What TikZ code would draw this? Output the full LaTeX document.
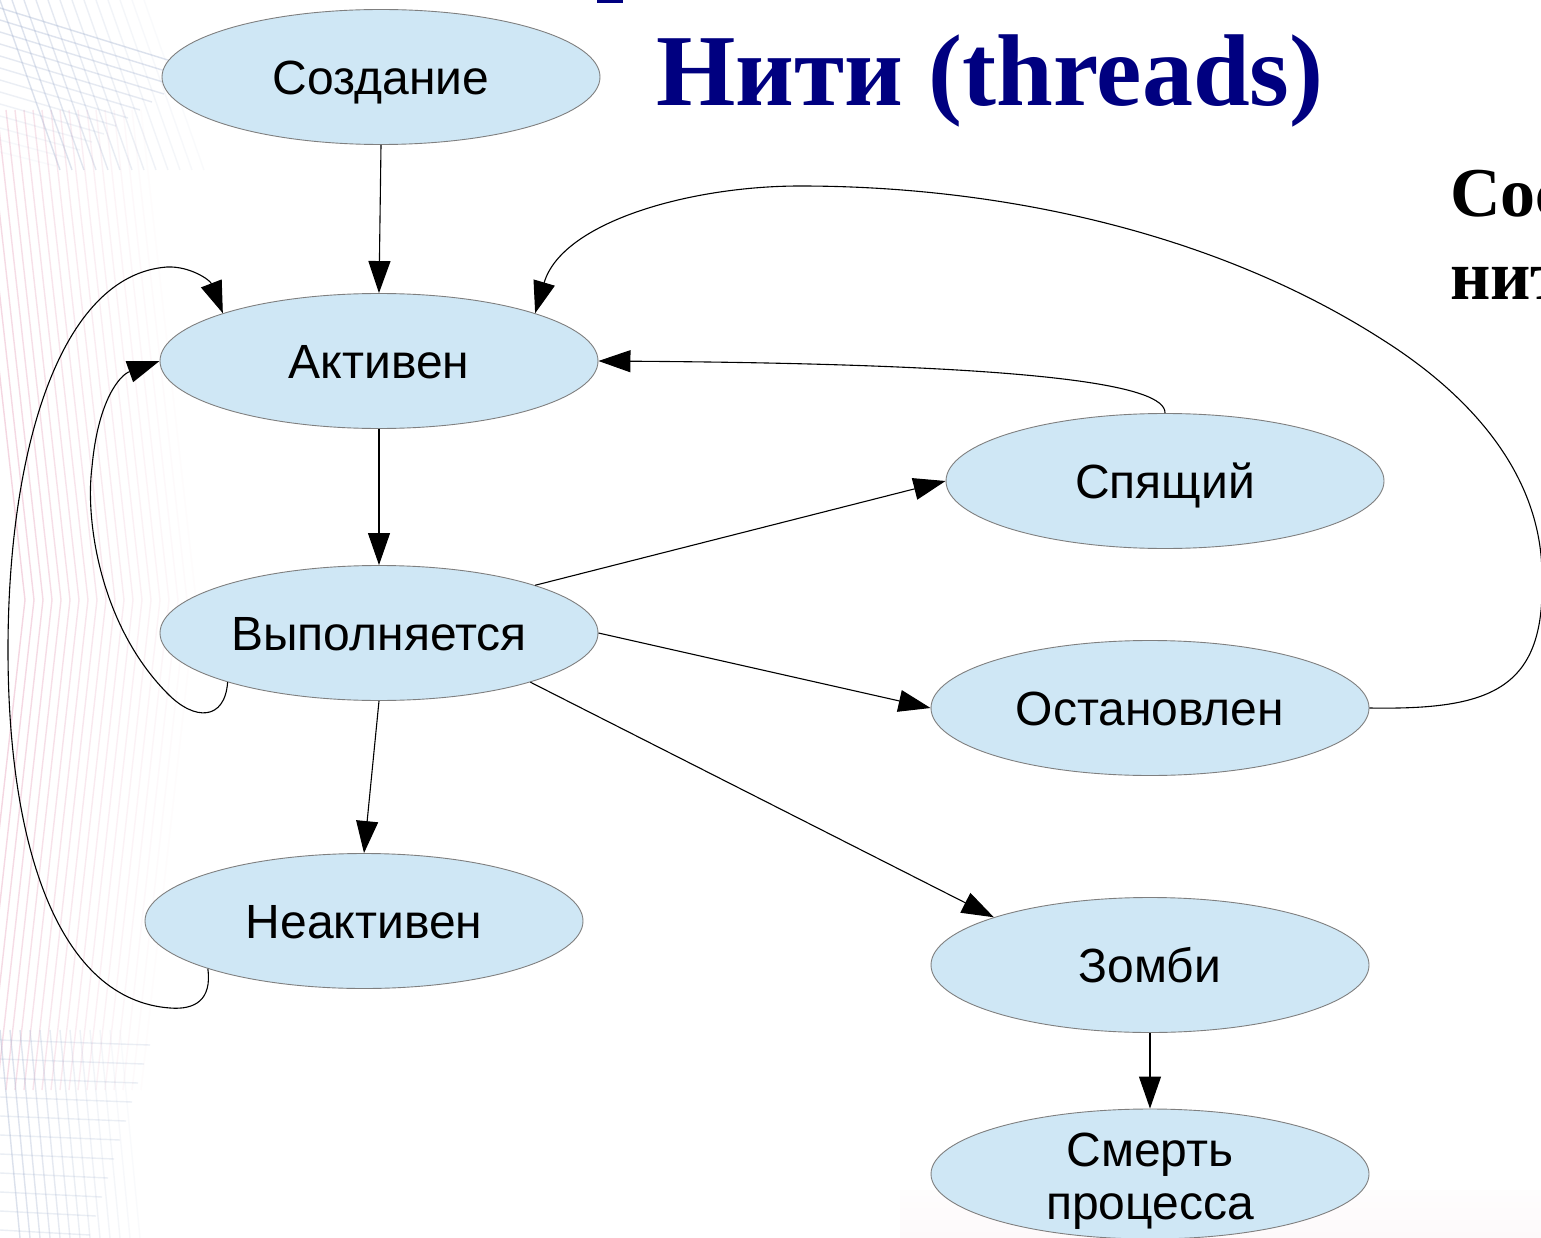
\documentclass[tikz,border=0pt]{standalone}
\usepackage{fontspec}
\setmainfont{Liberation Sans}
\newfontfamily\titlefont{Liberation Serif}
\usetikzlibrary{arrows.meta,shapes.geometric}
\definecolor{stfill}{HTML}{CFE7F5}
\definecolor{stborder}{HTML}{7F7F7F}
\definecolor{titleblue}{HTML}{000080}
\definecolor{bgpink}{HTML}{E8A6BE}
\definecolor{bgblue}{HTML}{9AAACB}
\begin{document}
\begin{tikzpicture}[x=1pt,y=-1pt,
  state/.style={ellipse, draw=stborder, line width=0.9pt, fill=stfill,
    minimum width=438pt, minimum height=135pt, inner sep=0pt,
    font=\fontsize{48}{54}\selectfont, text height=35pt, text depth=0pt},
  conn/.style={line width=1.1pt, -{Triangle[length=32pt,width=22pt]}},
  bgline/.style={line width=1.4pt},
  ]
\useasboundingbox (0,0) rectangle (1541,1238);
\fill[white] (0,0) rectangle (1541,1238);
\begin{scope}
\clip (0,0) rectangle (1541,1238);
% background decoration on the left
\foreach \i [evaluate=\i as \op using 0.45-0.022*\i] in {0,...,19}
  \draw[bgline, draw=bgpink, opacity=\op] (\i*9-30,110) -- (\i*9+25,600) -- (\i*9-30,1090);
\foreach \k [evaluate=\k as \op using 0.35-0.025*\k] in {0,...,12}
  \draw[bgline, draw=bgblue, opacity=\op] (0,8+\k*12) -- (200-\k*12,70+\k*8);
\foreach \k [evaluate=\k as \op using 0.35-0.025*\k] in {0,...,12}
  \draw[bgline, draw=bgblue, opacity=\op] (\k*12,0) -- (\k*12+60,170);
\foreach \k [evaluate=\k as \op using 0.35-0.025*\k] in {0,...,12}
  \draw[bgline, draw=bgblue, opacity=\op] (\k*10,1030) -- (\k*10+20,1238);
\foreach \k in {0,...,10}
  \draw[bgline, draw=bgblue, opacity=0.2] (0,1040+\k*19) -- (150-\k*6,1045+\k*19);
\foreach \k [evaluate=\k as \op using 0.02+0.006*\k] in {0,...,8}
  \fill[bgpink, opacity=\op] (900,1190+\k*6) rectangle (1541,1196+\k*6);
% cut-off texts
\node[anchor=base west, inner sep=0pt, font=\titlefont\bfseries\fontsize{70}{80}\selectfont] (side1) at (1450,217) {Сос};
\node[anchor=base west, inner sep=0pt, font=\titlefont\bfseries\fontsize{70}{80}\selectfont] (side2) at (1450,300) {нит};
\fill[titleblue] (597,0) rectangle (623,3);
\end{scope}

\node[anchor=base west, inner sep=0pt, text=titleblue, font=\titlefont\bfseries\fontsize{102}{112}\selectfont] (title) at (656,106) {Нити (threads)};

\node[state] (sozd) at (381,77) {Создание};
\node[state] (akt) at (379,361) {Активен};
\node[state] (vyp) at (379,633) {Выполняется};
\node[state] (neakt) at (364,921) {Неактивен};
\node[state] (spi) at (1165,481) {Спящий};
\node[state] (ost) at (1150,708) {Остановлен};
\node[state] (zom) at (1150,965) {Зомби};
\node[state, minimum height=130pt] (smert) at (1150,1174) {};
\node[font=\fontsize{48}{53}\selectfont, align=center, inner sep=0pt] (smtxt) at (1150,1181) {Смерть\\процесса};

\draw[conn] (sozd.south) -- (akt.north);
\draw[conn] (akt.south) -- (vyp.north);
\draw[conn] (vyp.south) -- (neakt.north);
\draw[conn] (vyp.17) -- (spi.west);
\draw[conn] (vyp.east) -- (ost.west);
\draw[conn] (vyp.-18) -- (zom.163);
\draw[conn] (zom.south) -- (smert.north);
\draw[conn] (spi.north) .. controls (1166,385) and (1040,364) .. (akt.east);
\draw[conn] (ost.east) .. controls (1490,710) and (1545,690) .. (1542,578)
  .. controls (1543,475) and (1470,395) .. (1383,340)
  .. controls (1215,232) and (1000,186) .. (800,186)
  .. controls (690,186) and (562,222) .. (akt.17);
\draw[conn] (vyp.-162) .. controls (225,720) and (195,722) .. (167,693)
  .. controls (100,625) and (85,520) .. (92,467)
  .. controls (98,400) and (120,375) .. (akt.west);
\draw[conn] (neakt.-163) .. controls (212,1000) and (195,1010) .. (170,1008)
  .. controls (60,1000) and (8,850) .. (8,650)
  .. controls (8,450) and (60,275) .. (167,267)
  .. controls (190,266) and (210,280) .. (akt.163);
\end{tikzpicture}
\end{document}
